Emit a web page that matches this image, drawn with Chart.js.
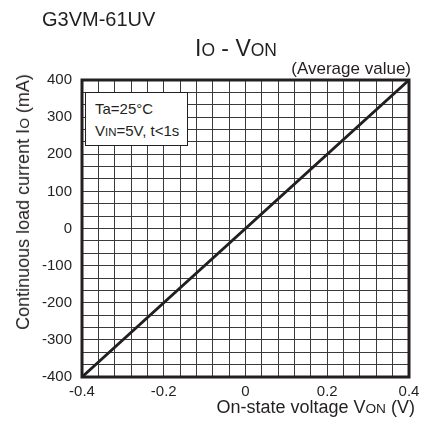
<!DOCTYPE html>
<html lang="en">
<head>
    <meta charset="UTF-8">
    <title>G3VM-61UV Io - Von</title>
    <script src="https://cdn.jsdelivr.net/npm/chart.js@4.4.0/dist/chart.umd.min.js"></script>
    <style>
    body{
        margin: 0;
        background-color: #fff;
        font-family: 'Liberation Sans', Arial, Helvetica, sans-serif;
        color: #231f20;
    }
    .wrap{
        position: relative;
        width: 427px;
        height: 424px;
        overflow: hidden;
    }
    #myChart{
        position: absolute;
        left: 0;
        top: 0;
    }
    .txt{
        position: absolute;
        line-height: 1;
        white-space: nowrap;
    }
    .sm{
        font-size: 0.76em;
    }
    .noteBox{
        position: absolute;
        left: 85px;
        top: 92px;
        width: 101px;
        height: 52px;
        background-color: #fff;
        border: 1.5px solid #231f20;
    }
    </style>
</head>
<body>
    <div class="wrap">
        <canvas id="myChart" width="427" height="424"></canvas>

        <div class="txt" style="left:42px; top:9px; font-size:20px;">G3VM-61UV</div>
        <div class="txt" style="left:195px; top:37px; font-size:23px;">I<span class="sm">O</span> - V<span class="sm">ON</span></div>
        <div class="txt" style="right:16px; top:60px; font-size:17px;">(Average value)</div>
        <div class="txt" style="right:12px; top:398px; font-size:18px;">On-state voltage V<span class="sm">ON</span> (V)</div>
        <div class="txt" style="left:23px; top:202px; font-size:18px; transform: translate(-50%, -50%) rotate(-90deg);">Continuous load current I<span class="sm">O</span> (mA)</div>

        <div class="noteBox">
            <div class="txt" style="left:9px; top:8px; font-size:15px;">Ta=25°C</div>
            <div class="txt" style="left:9px; top:30px; font-size:15px;">V<span class="sm">IN</span>=5V, t&lt;1s</div>
        </div>
    </div>

    <script>
        // data
        const vonValues = [-0.4, 0, 0.4];
        const ioValues = [-400, 0, 400];

        const xTicks = [-0.4, -0.2, 0, 0.2, 0.4];
        const xTickLabels = ['-0.4', '-0.2', '0', '0.2', '0.4'];
        const yTicks = [-400, -300, -200, -100, 0, 100, 200, 300, 400];
        const yTickLabels = ['-400', '-300', '-200', '-100', '0', '100', '200', '300', '400'];

        const xGridCount = 20;   // 0.04 V per cell
        const yGridCount = 24;   // 100/3 mA per cell

        const ink = '#231f20';
        const gridInk = '#3a3a3a';

        function gridTicks(min, max, n){
            let t = [];
            for(let i = 0; i <= n; i++){
                t.push({value: min + (max - min) * i / n});
            }
            return t;
        }

        function labelFor(v, vals, labels, tol){
            for(let i = 0; i < vals.length; i++){
                if (Math.abs(vals[i] - v) < tol) return labels[i];
            }
            return '';
        }

        const boxPlugin = {
            id: 'boxPlugin',
            afterDatasetsDraw(chart){
                const a = chart.chartArea;
                const ctx = chart.ctx;
                ctx.save();
                ctx.strokeStyle = ink;
                ctx.lineWidth = 3;
                ctx.strokeRect(a.left, a.top, a.right - a.left, a.bottom - a.top);
                ctx.restore();
            }
        };

        let data = {
            datasets: [{
                label: 'Io',
                data: vonValues.map((v, i) => ({x: v, y: ioValues[i]})),
                showLine: true,
                borderColor: ink,
                borderWidth: 3,
                pointRadius: 0,
                clip: false
            }]
        };

        let config = {
            type: 'scatter',
            data,
            options: {
                responsive: false,
                animation: false,
                layout: {
                    padding: {left: 0, top: 80, right: 18, bottom: 0}
                },
                plugins: {
                    legend: {display: false},
                    tooltip: {enabled: false}
                },
                scales: {
                    x: {
                        type: 'linear',
                        min: xTicks[0],
                        max: xTicks[xTicks.length - 1],
                        afterFit: (scale) => { scale.height = 47; },
                        afterBuildTicks: (scale) => { scale.ticks = gridTicks(xTicks[0], xTicks[xTicks.length - 1], xGridCount); },
                        grid: {color: gridInk, lineWidth: 1, drawTicks: false},
                        border: {display: false},
                        ticks: {
                            autoSkip: false,
                            maxRotation: 0,
                            padding: 6,
                            color: ink,
                            font: {family: "'Liberation Sans', Arial, sans-serif", size: 15},
                            callback: (v) => labelFor(v, xTicks, xTickLabels, 1e-6)
                        }
                    },
                    y: {
                        type: 'linear',
                        min: yTicks[0],
                        max: yTicks[yTicks.length - 1],
                        afterFit: (scale) => { scale.width = 82; },
                        afterBuildTicks: (scale) => { scale.ticks = gridTicks(yTicks[0], yTicks[yTicks.length - 1], yGridCount); },
                        grid: {color: gridInk, lineWidth: 1, drawTicks: false},
                        border: {display: false},
                        ticks: {
                            autoSkip: false,
                            padding: 10,
                            color: ink,
                            font: {family: "'Liberation Sans', Arial, sans-serif", size: 15},
                            callback: (v) => labelFor(v, yTicks, yTickLabels, 1e-3)
                        }
                    }
                }
            },
            plugins: [boxPlugin]
        };

        const myChart = new Chart(document.getElementById('myChart'), config);
    </script>
</body>
</html>
